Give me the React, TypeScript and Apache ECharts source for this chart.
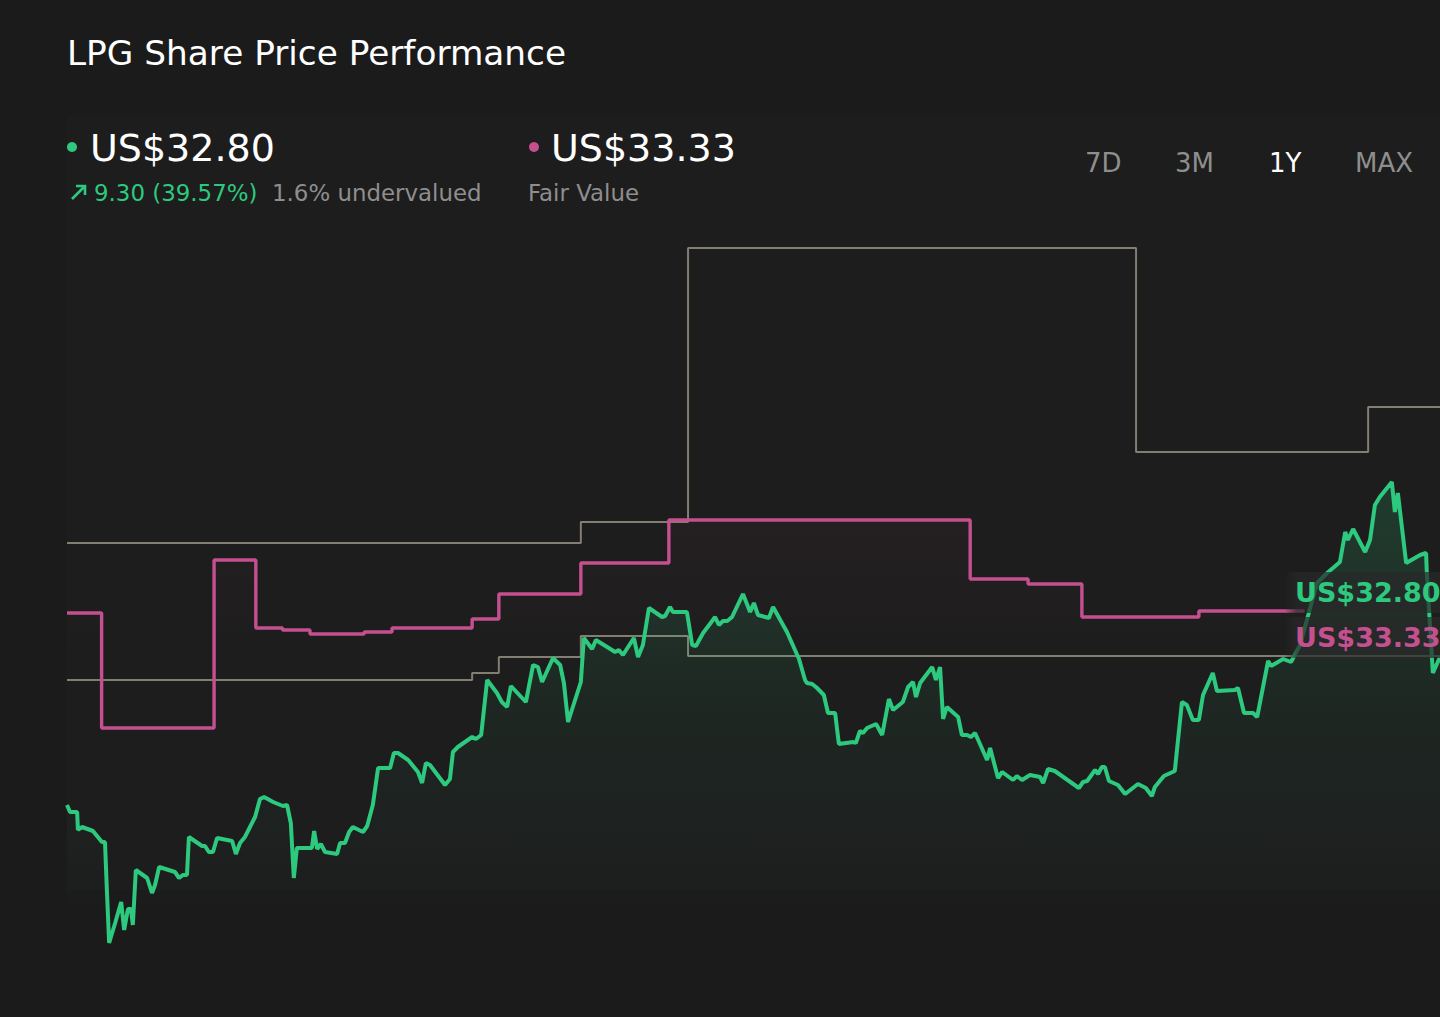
import React, { useEffect, useRef } from "react";
import * as echarts from "echarts";

// x = day within the 1Y window (0..365), y = US$
const priceDays = [0,0.8,2.7,2.9,4.0,6.9,8.2,9.3,10.1,10.6,11.2,12.8,14.4,15.2,16.2,17.0,17.5,18.3,21.3,22.6,23.4,24.5,28.7,29.8,30.8,31.9,32.4,35.9,36.7,37.7,38.8,39.9,43.9,44.9,46.0,47.3,50.0,51.3,52.4,54.8,57.4,58.5,59.5,60.3,61.1,65.1,65.7,66.5,67.5,68.6,71.8,72.6,73.9,75.0,76.0,78.7,79.8,81.3,82.7,85.9,86.9,88.0,90.7,93.3,94.4,95.4,96.5,100.5,101.8,102.6,103.9,107.7,108.7,110.1,111.7,114.3,115.6,117.0,118.0,122.0,123.9,125.2,126.3,129.2,131.1,132.1,133.2,136.6,137.4,139.6,140.6,143.6,145.7,146.7,147.8,150.7,151.8,153.1,154.7,158.2,159.0,160.3,161.1,164.8,166.2,167.2,169.1,172.3,173.3,174.4,175.5,176.8,179.7,181.6,182.6,183.7,186.6,187.7,191.4,194.6,196.2,196.7,198.1,199.4,201.2,202.3,204.2,205.2,209.0,209.7,210.8,211.6,212.7,215.1,216.7,218.5,219.6,222.2,223.6,224.9,225.7,226.8,230.0,231.0,232.1,232.9,233.9,236.9,237.9,239.3,240.3,241.4,244.6,245.4,247.5,248.6,251.5,252.5,253.9,256.0,258.7,259.5,260.8,262.6,269.0,270.1,271.2,273.3,274.1,275.1,275.9,277.0,279.4,281.3,284.7,286.8,288.4,289.2,291.6,294.5,296.4,297.7,299.3,300.9,302.0,304.6,305.7,310.5,311.3,312.9,315.3,316.4,319.3,320.1,323.3,325.4,327.8,332.3,335.0,338.4,339.8,340.5,341.9,345.1,346.4,347.7,349.0,352.2,353.0,353.8,356.0,359.7,361.3,361.5,363.1,365.0];
const priceValues = [23.50,23.15,23.15,22.25,22.40,22.20,21.90,21.65,21.65,19.25,16.60,17.60,18.65,17.25,18.30,18.30,17.50,20.25,19.85,19.10,19.50,20.40,20.15,19.85,20.00,20.00,21.90,21.45,21.45,21.15,21.15,21.85,21.70,21.05,21.60,21.90,22.90,23.80,23.90,23.65,23.45,23.50,22.60,19.85,21.35,21.35,22.20,21.30,21.55,21.15,21.05,21.60,21.60,22.15,22.40,22.15,22.45,23.50,25.35,25.35,26.10,26.10,25.75,25.15,24.60,25.60,25.50,24.50,24.80,26.15,26.40,26.90,26.80,27.00,29.75,29.10,28.65,28.40,29.45,28.65,30.50,30.40,29.65,30.85,30.50,29.60,27.65,29.65,31.85,31.30,31.75,31.40,31.15,31.25,31.00,31.85,30.90,31.50,33.35,32.90,32.95,33.40,33.15,33.15,31.50,31.45,32.10,32.90,32.50,32.70,32.70,32.90,34.05,33.15,33.60,33.00,32.85,33.40,32.15,30.80,29.75,29.60,29.55,29.35,29.00,28.10,28.10,26.55,26.65,26.60,27.20,27.10,27.35,27.55,27.00,28.80,28.25,28.65,29.40,29.65,28.90,29.60,30.40,29.75,30.40,27.80,28.40,27.90,27.00,27.00,26.90,27.10,25.75,26.35,24.85,25.15,24.75,24.95,24.75,25.00,24.90,24.60,25.30,25.20,24.35,24.65,24.70,25.25,25.05,25.40,25.40,24.70,24.50,24.05,24.55,24.35,23.95,24.40,24.95,25.20,28.65,28.50,27.75,27.75,29.00,30.10,29.20,29.25,29.35,28.10,28.10,27.90,30.70,30.45,30.80,30.65,31.50,34.60,35.10,35.65,37.15,36.75,37.30,36.15,36.75,38.50,38.90,39.65,38.15,39.10,35.60,36.00,36.10,35.10,30.10,30.90];

const fairValueDays = [0,9.2,39.1,50.2,57.3,64.6,79.0,86.4,107.7,114.8,136.6,160.0,240.1,255.5,269.8,300.9,329.0];
const fairValueValues = [33.10,27.35,35.75,32.35,32.25,32.05,32.15,32.35,32.80,34.05,35.60,37.75,34.80,34.55,32.90,33.20,33.20];

const targetHighDays = [0,136.6,165.1,284.2,345.9,365];
const targetHighValues = [36.60,37.65,51.35,41.15,43.40,43.40];

const targetLowDays = [0,107.7,114.8,136.6,165.1,365];
const targetLowValues = [29.75,30.10,30.90,31.95,30.95,30.95];

const rangeButtons = ["7D", "3M", "1Y", "MAX"];
const activeRange = "1Y";

const GREEN = "#2dc97e";
const PINK = "#c4508f";
const GRAY = "#837e72";
const BG = "#1b1b1b";
const FONT = '"DejaVu Sans", "Noto Sans", sans-serif';

const zip = (xs: number[], ys: number[]) => xs.map((x, i) => [x, ys[i]]);

export default function App() {
  const ref = useRef<HTMLDivElement>(null);
  useEffect(() => {
    document.body.style.margin = "0";
    document.body.style.overflow = "hidden";
    document.body.style.background = BG;
    const chart = echarts.init(ref.current!, undefined, { renderer: "svg" });
    const btnX = [1085, 1175, 1269, 1355];
    const t = (text: string, x: number, y: number, size: number, fill: string, weight = "normal") => ({
      type: "text",
      x,
      y,
      z: 100,
      style: {
        text,
        x: 0,
        y: 0,
        fill,
        font: `${weight} ${size}px ${FONT}`,
        textVerticalAlign: "middle",
        verticalAlign: "middle",
      },
    });
    const labelBg = (y: number) => ({
      type: "rect",
      z: 90,
      shape: { x: 1284, y, width: 180, height: 41, r: 6 },
      style: {
        fill: new echarts.graphic.LinearGradient(0, 0, 1, 0, [
          { offset: 0, color: "rgba(40,40,40,0)" },
          { offset: 0.07, color: "rgba(40,40,40,0.7)" },
          { offset: 1, color: "rgba(40,40,40,0.7)" },
        ]),
      },
    });
    chart.setOption({
      animation: false,
      backgroundColor: BG,
      grid: { left: 67, right: 0, top: 115, height: 880 },
      xAxis: { type: "value", min: 0, max: 365, show: false },
      yAxis: { type: "value", min: 14, max: 58, show: false, splitLine: { show: false } },
      series: [
        {
          type: "line",
          data: zip(targetHighDays, targetHighValues),
          step: "end",
          symbol: "none",
          lineStyle: { color: GRAY, width: 2 },
          z: 1,
        },
        {
          type: "line",
          data: zip(targetLowDays, targetLowValues),
          step: "end",
          symbol: "none",
          lineStyle: { color: GRAY, width: 2 },
          z: 1,
        },
        {
          type: "line",
          data: zip(fairValueDays, fairValueValues),
          step: "end",
          symbol: "none",
          lineStyle: { color: PINK, width: 3.4 },
          areaStyle: {
            color: new echarts.graphic.LinearGradient(0, 0, 0, 1, [
              { offset: 0, color: "rgba(196,80,143,0.06)" },
              { offset: 0.3, color: "rgba(196,80,143,0.0)" },
            ]),
          },
          z: 2,
        },
        {
          type: "line",
          data: zip(priceDays, priceValues),
          symbol: "none",
          lineStyle: { color: GREEN, width: 4 },
          areaStyle: {
            color: new echarts.graphic.LinearGradient(0, 0, 0, 1, [
              { offset: 0, color: "rgba(45,201,126,0.26)" },
              { offset: 0.45, color: "rgba(45,201,126,0.08)" },
              { offset: 0.85, color: "rgba(45,201,126,0.0)" },
            ]),
          },
          z: 3,
        },
      ],
      graphic: [
        {
          type: "rect",
          z: -1,
          silent: true,
          shape: { x: 67, y: 115, width: 1373, height: 775 },
          style: { fill: "rgba(255,255,255,0.012)" },
        },
        t("LPG Share Price Performance", 67, 53, 34.3, "#ffffff"),
        { type: "circle", z: 100, shape: { cx: 72, cy: 147, r: 5 }, style: { fill: GREEN } },
        t("US$32.80", 90, 148, 38, "#ffffff"),
        {
          type: "polyline",
          z: 100,
          shape: { points: [[72, 199], [85, 186]] },
          style: { stroke: GREEN, lineWidth: 2.6, fill: "none" },
        },
        {
          type: "polyline",
          z: 100,
          shape: { points: [[76, 186], [85, 186], [85, 195]] },
          style: { stroke: GREEN, lineWidth: 2.6, fill: "none" },
        },
        t("9.30 (39.57%)", 94, 193, 22.9, GREEN),
        t("1.6% undervalued", 272, 193, 22.9, "#8e8e8e"),
        { type: "circle", z: 100, shape: { cx: 534, cy: 147, r: 5 }, style: { fill: PINK } },
        t("US$33.33", 551, 148, 38, "#ffffff"),
        t("Fair Value", 528, 193, 22.9, "#8e8e8e"),
        ...rangeButtons.map((b, i) =>
          t(b, btnX[i], 163, 26, b === activeRange ? "#ffffff" : "#8e8e8e")
        ),
        labelBg(572),
        labelBg(617),
        t("US$32.80", 1295, 592, 27, GREEN, "bold"),
        t("US$33.33", 1295, 637, 27, PINK, "bold"),
      ],
    });
    return () => chart.dispose();
  }, []);
  return (
    <div
      ref={ref}
      style={{ position: "fixed", left: 0, top: 0, width: 1440, height: 1017, background: BG }}
    />
  );
}
